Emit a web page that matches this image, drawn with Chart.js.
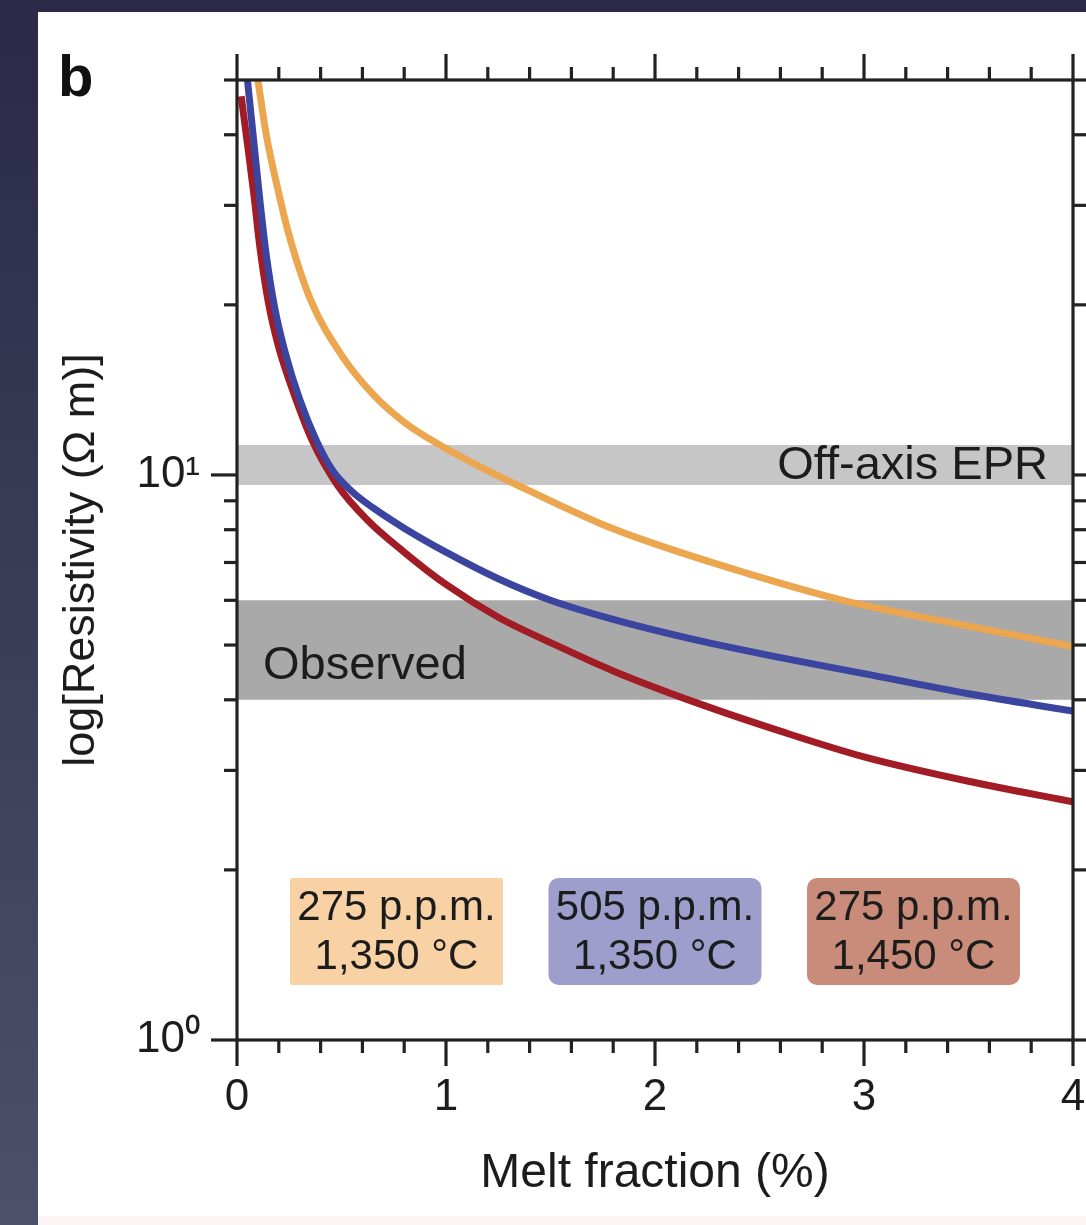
<!DOCTYPE html>
<html>
<head>
<meta charset="utf-8">
<title>Resistivity vs melt fraction</title>
<script src="https://cdn.jsdelivr.net/npm/chart.js@4.4.1/dist/chart.umd.min.js"></script>
<style>
  html, body { margin: 0; padding: 0; background: #2a2a48; }
  #wrap { width: 1086px; height: 1225px; }
</style>
</head>
<body>
<div id="wrap"><canvas id="resistivity" width="1086" height="1225"></canvas></div>
<script>
// model curves: melt fraction (%) -> bulk resistivity (ohm m)
const melt275_1350 = [0.10, 0.14, 0.20, 0.25, 0.35, 0.50, 0.65, 0.80, 0.97, 1.15, 1.34, 1.74, 2.00, 2.44, 2.90, 3.50, 4.00];
const rho275_1350  = [50, 40, 31.5, 26.5, 20.5, 16.3, 13.9, 12.4, 11.3, 10.4, 9.6, 8.2, 7.55, 6.7, 6.0, 5.4, 4.97];

const melt505_1350 = [0.05, 0.08, 0.11, 0.14, 0.18, 0.23, 0.30, 0.38, 0.46, 0.55, 0.65, 0.80, 1.00, 1.25, 1.50, 1.80, 2.20, 2.60, 3.00, 3.50, 4.00];
const rho505_1350  = [50, 39, 30.5, 24.5, 19.8, 16.5, 13.6, 11.5, 10.15, 9.35, 8.75, 8.05, 7.3, 6.55, 6.0, 5.55, 5.1, 4.75, 4.45, 4.1, 3.82];

const melt275_1450 = [0.02, 0.05, 0.08, 0.11, 0.15, 0.20, 0.27, 0.36, 0.48, 0.62, 0.80, 1.00, 1.25, 1.50, 1.80, 2.20, 2.60, 3.00, 3.50, 4.00];
const rho275_1450  = [46.8, 38.5, 31.5, 25.2, 20.2, 16.8, 14.0, 11.5, 9.6, 8.35, 7.3, 6.4, 5.6, 5.05, 4.5, 3.95, 3.52, 3.17, 2.87, 2.64];

// resistivity ranges (low, high)
const offAxisEPR = [9.6, 11.3];
const observed = [4.0, 6.0];

// axes
const xLabels = [0, 1, 2, 3, 4];
const xMinor = [0.2, 0.4, 0.6, 0.8, 1.2, 1.4, 1.6, 1.8, 2.2, 2.4, 2.6, 2.8, 3.2, 3.4, 3.6, 3.8];
const yLabels = [1, 10];
const yLabelText = ['10\u2070', '10\u00b9'];
const yMinor = [2, 3, 4, 5, 6, 7, 8, 9, 20, 30, 40, 50];

// legend boxes
const legendLines = [
    ['275 p.p.m.', '1,350 \u00b0C'],
    ['505 p.p.m.', '1,350 \u00b0C'],
    ['275 p.p.m.', '1,450 \u00b0C']
];

const FONT = '"Liberation Sans", Arial, Helvetica, sans-serif';
const INK = '#1c1c1c';
Chart.defaults.font.family = FONT;
Chart.defaults.color = INK;

function pts(xs, ys) {
    return xs.map((x, i) => ({x: x, y: ys[i]}));
}

function flat(level) {
    return [{x: 0, y: level}, {x: 4, y: level}];
}

// page frame behind the chart
const backdrop = {
    id: 'backdrop',
    beforeDraw(chart) {
        const ctx = chart.ctx;
        ctx.save();
        const g = ctx.createLinearGradient(0, 0, 0, chart.height);
        g.addColorStop(0, '#2a2a48');
        g.addColorStop(1, '#4c5069');
        ctx.fillStyle = g;
        ctx.fillRect(0, 0, 38, chart.height);
        ctx.fillStyle = '#2a2a48';
        ctx.fillRect(0, 0, chart.width, 12);
        ctx.fillStyle = '#ffffff';
        ctx.fillRect(38, 12, chart.width - 38, chart.height - 12);
        ctx.fillStyle = '#fcf4f4';
        ctx.fillRect(38, chart.height - 9, chart.width - 38, 9);
        ctx.restore();
    }
};

function roundRect(ctx, x, y, w, h, r) {
    ctx.beginPath();
    ctx.moveTo(x + r, y);
    ctx.arcTo(x + w, y, x + w, y + h, r);
    ctx.arcTo(x + w, y + h, x, y + h, r);
    ctx.arcTo(x, y + h, x, y, r);
    ctx.arcTo(x, y, x + w, y, r);
    ctx.closePath();
}

// band names and the three condition boxes
const notes = {
    id: 'notes',
    afterDatasetsDraw(chart) {
        const {ctx, chartArea: a, scales: {y}} = chart;
        ctx.save();
        ctx.fillStyle = INK;
        ctx.font = '47px ' + FONT;
        ctx.textBaseline = 'middle';
        ctx.textAlign = 'right';
        const epr = (y.getPixelForValue(offAxisEPR[0]) + y.getPixelForValue(offAxisEPR[1])) / 2;
        ctx.fillText('Off-axis EPR', a.right - 25, epr + 1);
        ctx.textAlign = 'left';
        const obs = (y.getPixelForValue(observed[0]) + y.getPixelForValue(observed[1])) / 2;
        ctx.fillText('Observed', a.left + 26, obs + 16);

        const fills = ['#f8d2a5', '#9d9ecc', '#c98c7a'];
        const radii = [2, 10, 10];
        const boxW = 213, boxH = 107, top = a.bottom - 162;
        ctx.font = '42px ' + FONT;
        ctx.textAlign = 'center';
        legendLines.forEach((lines, i) => {
            const left = a.left + 53 + i * 258.5;
            ctx.fillStyle = fills[i];
            roundRect(ctx, left, top, boxW, boxH, radii[i]);
            ctx.fill();
            ctx.fillStyle = INK;
            ctx.fillText(lines[0], left + boxW / 2, top + 30);
            ctx.fillText(lines[1], left + boxW / 2, top + 79);
        });
        ctx.restore();
    }
};

// box frame with outward tick marks on all four sides, plus panel letter
const frame = {
    id: 'frame',
    afterDraw(chart) {
        const {ctx, chartArea: a, scales: {x, y}} = chart;
        ctx.save();
        ctx.strokeStyle = '#222222';
        ctx.lineWidth = 3.2;
        ctx.strokeRect(a.left, a.top, a.right - a.left, a.bottom - a.top);
        const line = (x1, y1, x2, y2) => {
            ctx.beginPath();
            ctx.moveTo(x1, y1);
            ctx.lineTo(x2, y2);
            ctx.stroke();
        };
        const major = 26, minor = 13;
        xLabels.concat(xMinor).forEach(v => {
            const px = x.getPixelForValue(v);
            const len = xLabels.includes(v) ? major : minor;
            line(px, a.bottom, px, a.bottom + len);
            line(px, a.top, px, a.top - len);
        });
        yLabels.concat(yMinor).forEach(v => {
            const py = y.getPixelForValue(v);
            const len = yLabels.includes(v) ? major : minor;
            line(a.left, py, a.left - len, py);
            line(a.right, py, a.right + len, py);
        });

        ctx.fillStyle = '#111111';
        ctx.font = 'bold 58px ' + FONT;
        ctx.textAlign = 'left';
        ctx.textBaseline = 'alphabetic';
        ctx.fillText('b', 58, 96);
        ctx.restore();
    }
};

const bandStyle = {
    borderWidth: 0,
    pointRadius: 0,
    order: 10
};

const curveStyle = {
    fill: false,
    borderWidth: 7,
    pointRadius: 0,
    cubicInterpolationMode: 'monotone',
    order: 1
};

new Chart(document.getElementById('resistivity'), {
    type: 'line',
    data: {
        datasets: [
            {...bandStyle, data: flat(offAxisEPR[1]), fill: '+1', backgroundColor: '#c6c6c6'},
            {...bandStyle, data: flat(offAxisEPR[0]), fill: false},
            {...bandStyle, data: flat(observed[1]), fill: '+1', backgroundColor: '#a9a9a9'},
            {...bandStyle, data: flat(observed[0]), fill: false},
            {...curveStyle, label: '275 p.p.m. 1,350 °C', data: pts(melt275_1350, rho275_1350), borderColor: '#eca650'},
            {...curveStyle, label: '505 p.p.m. 1,350 °C', data: pts(melt505_1350, rho505_1350), borderColor: '#3b45a0'},
            {...curveStyle, label: '275 p.p.m. 1,450 °C', data: pts(melt275_1450, rho275_1450), borderColor: '#a11c25'}
        ]
    },
    options: {
        responsive: false,
        animation: false,
        events: [],
        layout: {padding: {top: 80, right: 13, left: 0, bottom: 0}},
        plugins: {
            legend: {display: false},
            tooltip: {enabled: false}
        },
        scales: {
            x: {
                type: 'linear',
                min: 0,
                max: 4,
                afterBuildTicks: scale => { scale.ticks = xLabels.map(v => ({value: v})); },
                afterFit: scale => {
                    scale.height = 185;
                    scale.paddingLeft = 0;
                    scale.paddingRight = 0;
                },
                ticks: {
                    font: {size: 44},
                    color: INK,
                    padding: 31,
                    maxRotation: 0
                },
                grid: {display: false, drawTicks: false, tickLength: 0},
                border: {display: false},
                title: {
                    display: true,
                    text: 'Melt fraction (%)',
                    font: {size: 48},
                    color: INK,
                    padding: {bottom: 22}
                }
            },
            y: {
                type: 'logarithmic',
                min: 1,
                max: 50,
                afterBuildTicks: scale => { scale.ticks = yLabels.map(v => ({value: v})); },
                afterFit: scale => {
                    scale.width = 237;
                    scale.paddingTop = 0;
                    scale.paddingBottom = 0;
                },
                ticks: {
                    font: {size: 44},
                    color: INK,
                    padding: 37,
                    callback: (value) => yLabelText[yLabels.indexOf(value)]
                },
                grid: {display: false, drawTicks: false, tickLength: 0},
                border: {display: false},
                title: {
                    display: true,
                    text: 'log[Resistivity (\u03a9 m)]',
                    font: {size: 45},
                    color: INK,
                    padding: {top: 55}
                }
            }
        }
    },
    plugins: [backdrop, notes, frame]
});
</script>
</body>
</html>
